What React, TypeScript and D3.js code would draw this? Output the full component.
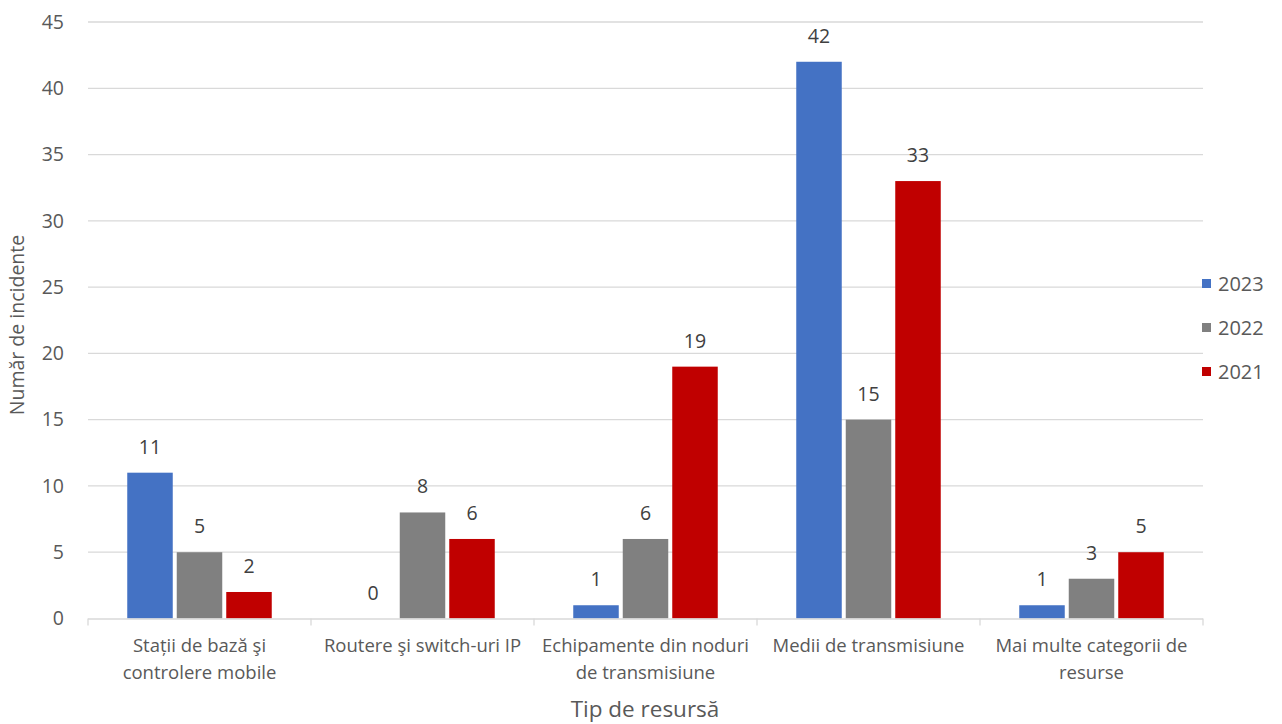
import React from "react";
import * as d3 from "d3";

const categories = [
  ["Stații de bază şi", "controlere mobile"],
  ["Routere şi switch-uri IP"],
  ["Echipamente din noduri", "de transmisiune"],
  ["Medii de transmisiune"],
  ["Mai multe categorii de", "resurse"],
];
const seriesNames = ["2023", "2022", "2021"];
const values2023 = [11, 0, 1, 42, 1];
const values2022 = [5, 8, 6, 15, 3];
const values2021 = [2, 6, 19, 33, 5];
const yTicks = [0, 5, 10, 15, 20, 25, 30, 35, 40, 45];
const colors = ["#4472C4", "#808080", "#C00000"];

export default function App() {
  const W = 1282, H = 724;
  const left = 88, right = 1203, top = 22, bottom = 618.5;
  const series = [values2023, values2022, values2021];
  const x = d3.scaleBand<number>().domain(d3.range(categories.length)).range([left, right]).paddingInner(0).paddingOuter(0);
  const y = d3.scaleLinear().domain([0, 45]).range([bottom, top]);
  const bw = x.bandwidth();
  const barW = 45.5;
  const step = 49.5;
  const groupW = step * 2 + barW;
  const font = "'Open Sans', 'Liberation Sans', sans-serif";
  return (
    <svg width={W} height={H} style={{ position: "absolute", left: 0, top: 0, background: "#fff" }} fontFamily={font}>
      {yTicks.map((t) => (
        <g key={t}>
          {t !== 0 && <line x1={left} x2={right} y1={y(t)} y2={y(t)} stroke="#d9d9d9" strokeWidth={1.3} />}
          <text x={64} y={y(t)} dy="0.35em" textAnchor="end" fontSize={19.5} fill="#595959">{t}</text>
        </g>
      ))}
      {series.map((vals, si) =>
        vals.map((v, ci) => {
          const bx = x(ci)! + (bw - groupW) / 2 + si * step;
          return (
            <g key={`${si}-${ci}`}>
              <rect x={bx} y={y(v)} width={barW} height={bottom - y(v)} fill={colors[si]} />
              <text x={bx + barW / 2} y={y(v) - 19} textAnchor="middle" fontSize={19.5} fill="#404040">{v}</text>
            </g>
          );
        })
      )}
      <line x1={left} x2={right} y1={bottom + 0.5} y2={bottom + 0.5} stroke="#d9d9d9" strokeWidth={1.3} />
      {d3.range(categories.length + 1).map((i) => {
        const tx = left + i * bw;
        return <line key={i} x1={tx} x2={tx} y1={bottom} y2={bottom + 7} stroke="#d9d9d9" strokeWidth={1.3} />;
      })}
      {categories.map((lines, ci) => (
        <text key={ci} x={x(ci)! + bw / 2} y={651.5} textAnchor="middle" fontSize={18.5} fill="#595959">
          {lines.map((l, li) => (
            <tspan key={li} x={x(ci)! + bw / 2} dy={li === 0 ? 0 : 27}>{l}</tspan>
          ))}
        </text>
      ))}
      <text x={645} y={717} textAnchor="middle" fontSize={22.5} fill="#595959">Tip de resursă</text>
      <text transform={`translate(24, ${325}) rotate(-90)`} textAnchor="middle" fontSize={19.5} fill="#595959">Număr de incidente</text>
      {seriesNames.map((n, i) => (
        <g key={n}>
          <rect x={1202} y={279 + i * 44} width={9} height={9} fill={colors[i]} />
          <text x={1218} y={283.5 + i * 44} dy="0.35em" fontSize={20} fill="#595959">{n}</text>
        </g>
      ))}
    </svg>
  );
}
